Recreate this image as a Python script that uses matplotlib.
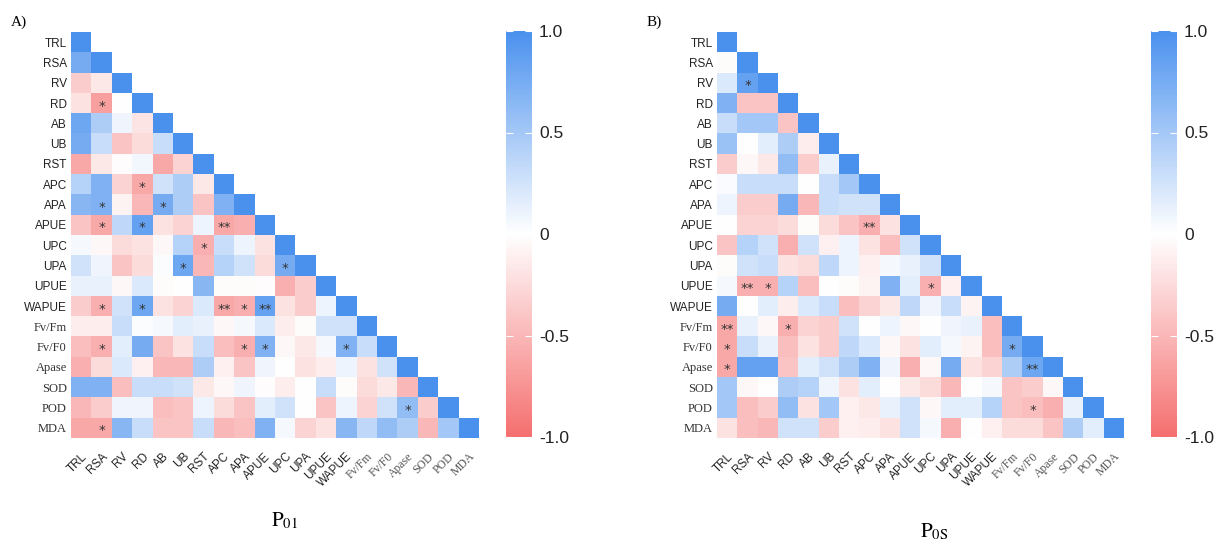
import numpy as np
import matplotlib
matplotlib.use("Agg")
import matplotlib.pyplot as plt
from matplotlib.colors import LinearSegmentedColormap

# noms des variables
labels = ["TRL", "RSA", "RV", "RD", "AB", "UB", "RST", "APC", "APA", "APUE",
          "UPC", "UPA", "UPUE", "WAPUE", "Fv/Fm", "Fv/F0", "Apase", "SOD", "POD", "MDA"]
serif_labels = ["Fv/Fm", "Fv/F0", "Apase", "SOD", "POD", "MDA"]

# triangle inferieur, panneau A (ligne i -> colonnes 0..i-1)
corr_a_rows = [
    [0.75],
    [-0.35, -0.15],
    [-0.2, -0.65, 0.0],
    [0.8, 0.45, 0.08, -0.18],
    [0.75, 0.3, -0.4, -0.25, 0.3],
    [-0.6, -0.15, -0.02, 0.07, -0.6, -0.3],
    [0.4, 0.7, -0.3, -0.6, 0.25, 0.45, -0.15],
    [0.65, 0.7, -0.08, -0.5, 0.75, 0.45, -0.4, 0.7],
    [-0.4, -0.6, 0.35, 0.85, -0.2, -0.3, 0.1, -0.6, -0.55],
    [0.05, -0.05, -0.25, -0.2, -0.05, 0.4, -0.55, 0.3, 0.1, -0.2],
    [0.25, 0.08, -0.4, -0.25, 0.02, 0.8, -0.5, 0.4, 0.25, -0.25, 0.75],
    [0.12, 0.12, -0.05, 0.2, -0.03, 0.0, 0.65, -0.03, -0.03, -0.02, -0.55, -0.35],
    [-0.35, -0.55, 0.25, 0.8, -0.2, -0.3, 0.2, -0.6, -0.55, 0.85, -0.2, -0.35, 0.1],
    [-0.12, -0.12, 0.3, 0.02, 0.05, 0.15, 0.12, -0.05, 0.05, 0.2, -0.12, -0.03, 0.25, 0.25],
    [-0.45, -0.55, 0.15, 0.75, -0.4, -0.2, 0.3, -0.45, -0.55, 0.7, -0.05, -0.15, 0.05, 0.7, 0.3],
    [-0.55, -0.25, 0.2, -0.1, -0.5, -0.5, 0.45, -0.1, -0.4, 0.08, 0.0, -0.2, -0.12, 0.1, -0.2, 0.25],
    [0.7, 0.7, -0.45, 0.3, 0.3, 0.25, -0.15, -0.05, 0.08, -0.02, -0.12, 0.0, 0.3, -0.03, -0.25, -0.15, -0.5],
    [-0.5, -0.35, 0.08, 0.08, -0.45, -0.4, 0.1, -0.25, -0.4, 0.15, 0.25, 0.0, -0.4, 0.1, -0.3, 0.25, 0.6, -0.35],
    [-0.6, -0.6, 0.65, 0.3, -0.4, -0.4, 0.3, -0.5, -0.45, 0.7, 0.05, -0.3, -0.2, 0.65, 0.35, 0.6, 0.45, -0.5, 0.5],
]

# triangle inferieur, panneau B
corr_b_rows = [
    [-0.03],
    [0.2, 0.85],
    [0.7, -0.4, -0.4],
    [0.3, 0.5, 0.5, -0.4],
    [0.55, 0.0, 0.15, 0.45, -0.12],
    [-0.35, -0.05, -0.15, 0.6, -0.35, 0.12],
    [0.03, 0.3, 0.3, 0.3, 0.0, 0.3, 0.5],
    [0.1, -0.35, -0.35, 0.75, -0.5, 0.3, 0.25, 0.25],
    [0.0, -0.3, -0.3, -0.25, -0.03, -0.25, -0.4, -0.55, -0.2],
    [-0.4, 0.4, 0.25, -0.55, 0.25, -0.1, 0.1, -0.2, -0.45, 0.25],
    [-0.03, 0.25, 0.3, -0.2, -0.25, 0.35, 0.1, -0.1, 0.05, 0.12, 0.25],
    [0.05, -0.55, -0.55, 0.4, -0.45, 0.0, -0.03, -0.08, 0.7, 0.15, -0.55, -0.1],
    [0.75, 0.0, 0.15, -0.12, 0.2, 0.3, -0.45, -0.3, -0.15, 0.35, 0.08, 0.3, -0.08],
    [-0.6, 0.12, -0.05, -0.55, -0.3, -0.35, 0.25, 0.0, 0.1, -0.05, 0.0, 0.08, 0.12, -0.45],
    [-0.6, 0.3, 0.12, -0.45, -0.2, -0.35, 0.35, 0.2, -0.05, -0.2, 0.15, 0.05, -0.08, -0.45, 0.75],
    [-0.6, 0.85, 0.85, -0.4, 0.15, 0.25, 0.45, 0.7, 0.08, -0.55, -0.05, 0.75, -0.2, -0.3, 0.45, 0.8],
    [0.5, -0.05, 0.0, 0.45, 0.4, 0.08, -0.2, 0.15, 0.0, -0.15, -0.25, -0.5, 0.0, 0.05, -0.4, -0.35, -0.05],
    [0.5, -0.45, -0.35, 0.6, -0.2, 0.5, -0.1, -0.15, 0.12, 0.25, -0.05, 0.15, 0.15, 0.4, -0.4, -0.45, -0.55, 0.12],
    [-0.2, -0.45, -0.5, 0.25, 0.25, -0.35, -0.1, -0.12, -0.2, 0.25, 0.05, -0.55, 0.0, -0.1, -0.25, -0.25, -0.4, 0.45, 0.15],
]

# significativite (ligne, colonne, texte)
stars_a = [("RD", "RSA", "*"), ("APC", "RD", "*"), ("APA", "RSA", "*"), ("APA", "AB", "*"),
           ("APUE", "RSA", "*"), ("APUE", "RD", "*"), ("APUE", "APC", "**"),
           ("UPC", "RST", "*"), ("UPA", "UB", "*"), ("UPA", "UPC", "*"),
           ("WAPUE", "RSA", "*"), ("WAPUE", "RD", "*"), ("WAPUE", "APC", "**"),
           ("WAPUE", "APA", "*"), ("WAPUE", "APUE", "**"),
           ("Fv/F0", "RSA", "*"), ("Fv/F0", "APA", "*"), ("Fv/F0", "APUE", "*"),
           ("Fv/F0", "WAPUE", "*"), ("POD", "Apase", "*"), ("MDA", "RSA", "*")]
stars_b = [("RV", "RSA", "*"), ("APUE", "APC", "**"), ("UPUE", "RSA", "**"),
           ("UPUE", "RV", "*"), ("UPUE", "UPC", "*"), ("Fv/Fm", "TRL", "**"),
           ("Fv/Fm", "RD", "*"), ("Fv/F0", "TRL", "*"), ("Fv/F0", "Fv/Fm", "*"),
           ("Apase", "TRL", "*"), ("Apase", "Fv/F0", "**"), ("POD", "Fv/F0", "*")]

cbar_ticks = [1.0, 0.5, 0.0, -0.5, -1.0]
cbar_labels = ["1.0", "0.5", "0", "-0.5", "-1.0"]

cmap = LinearSegmentedColormap.from_list("rwb", ["#F56F6F", "#FFFFFF", "#4A91EE"])


def matrice(rows):
    n = len(labels)
    m = np.full((n, n), np.nan)
    for i in range(n):
        m[i, i] = 1.0
    for i, r in enumerate(rows, start=1):
        for j, v in enumerate(r):
            m[i, j] = v
    return m


fig = plt.figure(figsize=(12.18, 5.41), dpi=100)
W, H = 1218, 541
plt.rcParams["mathtext.fontset"] = "stix"


def panneau(rows, stars, box, cbox, lettre, lettre_xy, titre, titre_xy):
    x0, y0, x1, y1 = box
    ax = fig.add_axes([x0 / W, 1 - y1 / H, (x1 - x0) / W, (y1 - y0) / H])
    m = np.ma.masked_invalid(matrice(rows))
    im = ax.imshow(m, cmap=cmap, vmin=-1, vmax=1, aspect="auto", interpolation="nearest")
    n = len(labels)
    ax.set_xticks(range(n))
    ax.set_yticks(range(n))
    ax.set_xticklabels(labels, rotation=45, ha="right", va="top", rotation_mode="anchor")
    ax.set_yticklabels(labels)
    ax.tick_params(axis="x", length=0, pad=9)
    ax.tick_params(axis="y", length=0, pad=3)
    for t in ax.get_xticklabels():
        if t.get_text() in serif_labels:
            t.set_fontfamily("Liberation Serif")
            t.set_fontsize(8.5)
            t.set_color("#555555")
        else:
            t.set_fontfamily("Liberation Sans")
            t.set_fontsize(8.5)
            t.set_color("#222222")
    for t in ax.get_yticklabels():
        if t.get_text() in serif_labels:
            t.set_fontfamily("Liberation Serif")
            t.set_fontsize(9)
            t.set_color("#333333")
        else:
            t.set_fontfamily("Liberation Sans")
            t.set_fontsize(8.5)
            t.set_color("#222222")
    for s in ax.spines.values():
        s.set_visible(False)
    for r, c, txt in stars:
        ax.text(labels.index(c), labels.index(r) + 0.15, txt, ha="center", va="center",
                fontsize=9.5, color="#333333")

    cx0, cy0, cx1, cy1 = cbox
    cax = fig.add_axes([cx0 / W, 1 - cy1 / H, (cx1 - cx0) / W, (cy1 - cy0) / H])
    cb = fig.colorbar(im, cax=cax)
    cb.outline.set_visible(False)
    cb.set_ticks(cbar_ticks)
    cb.set_ticklabels(cbar_labels)
    cax.tick_params(length=5, width=0.8, direction="in", color="white",
                    left=True, right=True, pad=5, labelsize=12.5)
    for t in cax.get_yticklabels():
        t.set_fontfamily("Liberation Sans")
        t.set_color("#222222")

    fig.text(lettre_xy[0] / W, 1 - lettre_xy[1] / H, lettre, fontsize=11,
             family="Liberation Serif", ha="left", va="center")
    fig.text(titre_xy[0] / W, 1 - titre_xy[1] / H, titre, fontsize=15,
             ha="center", va="center")


panneau(corr_a_rows, stars_a, (71, 32, 479, 438), (506, 31, 532, 437),
        "A)", (11, 22), r"$\mathrm{P}_{\mathrm{01}}$", (285, 521))
panneau(corr_b_rows, stars_b, (717, 32, 1124, 438), (1151, 31, 1177, 437),
        "B)", (647, 22), r"$\mathrm{P}_{\mathrm{0S}}$", (934, 532))

fig.savefig("out.png", dpi=100, facecolor="white")
